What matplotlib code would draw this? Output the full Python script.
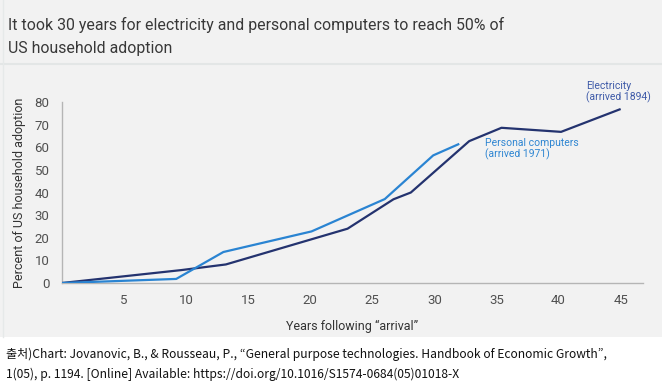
import matplotlib
matplotlib.use("Agg")
import matplotlib.pyplot as plt
from matplotlib.patches import Rectangle
from matplotlib.lines import Line2D

# Data
elec_years = [0, 9.6, 13.2, 23, 26.7, 28.1, 32.8, 35.4, 40.2, 45]
elec_vals = [0, 5.7, 8.2, 24, 37, 40, 62.7, 68.6, 66.8, 76.9]
pc_years = [0, 9.2, 13.0, 20.1, 26.0, 29.9, 32.0]
pc_vals = [0, 1.8, 13.7, 22.8, 37.1, 56.4, 61.5]
x_ticks = [5, 10, 15, 20, 25, 30, 35, 40, 45]
y_ticks = [0, 10, 20, 30, 40, 50, 60, 70, 80]

title1 = "It took 30 years for electricity and personal computers to reach 50% of"
title2 = "US household adoption"
caption1 = "출처)Chart: Jovanovic, B., & Rousseau, P., “General purpose technologies. Handbook of Economic Growth”,"
caption2 = "1(05), p. 1194. [Online] Available: https://doi.org/10.1016/S1574-0684(05)01018-X"

W, H = 662, 387
fig = plt.figure(figsize=(W / 100, H / 100), dpi=100)
fig.patch.set_facecolor("white")

bg = "#f2f2f2"
# grey panel
fig.patches.append(Rectangle((0, 1 - 337 / H), 1, 337 / H, transform=fig.transFigure,
                             facecolor=bg, edgecolor="none", zorder=-5))
# separator under title
fig.lines.append(Line2D([0, 1], [1 - 64 / H, 1 - 64 / H], transform=fig.transFigure,
                        color="#e3e6e6", lw=1.5, zorder=-4))
fig.lines.append(Line2D([3 / W, 3 / W], [1 - 337 / H, 1], transform=fig.transFigure,
                        color="#e6e9e9", lw=1.0, zorder=-4))

font = "Roboto"
fig.text(8 / W, 1 - 30 / H, title1,
         fontsize=11.4, color="#383838", family=font, va="baseline")
fig.text(8 / W, 1 - 53 / H, title2,
         fontsize=11.4, color="#383838", family=font, va="baseline")

left, right = 62 / W, 643 / W
bottom, top = 1 - 283 / H, 1 - 102 / H
ax = fig.add_axes([left, bottom, right - left, top - bottom])
ax.set_facecolor("none")
ax.set_xlim(0, 46.8)
ax.set_ylim(0, 80)

elec_color = "#24336f"
pc_color = "#2a84d2"
ax.plot(elec_years, elec_vals, color=elec_color, lw=1.6, solid_capstyle="butt", zorder=3)
ax.plot(pc_years, pc_vals, color=pc_color, lw=1.6, solid_capstyle="butt", zorder=3)

for s in ["top", "right"]:
    ax.spines[s].set_visible(False)
for s in ["left", "bottom"]:
    ax.spines[s].set_color("#b5b5b5")
    ax.spines[s].set_linewidth(1.0)

ax.set_xticks(x_ticks)
ax.set_yticks(y_ticks)
ax.tick_params(axis="both", length=0, labelsize=9.5, labelcolor="#505050")
ax.tick_params(axis="x", pad=8)
ax.tick_params(axis="y", pad=9)
for lab in ax.get_xticklabels() + ax.get_yticklabels():
    lab.set_family(font)

ax.set_xlabel("Years following \u201carrival\u201d", fontsize=9, color="#333333",
              family=font, labelpad=9)
ax.set_ylabel("Percent of US household adoption", fontsize=9, color="#333333",
              family=font)
ax.yaxis.set_label_coords((26 - 62) / (643 - 62), 0.5)

ax.text(42.2, 89.5, "Electricity\n(arrived 1894)", fontsize=7.5, color="#3e5aa8",
        family=font, va="top", ha="left", linespacing=1.15, clip_on=False)
ax.text(34.1, 64.3, "Personal computers\n(arrived 1971)", fontsize=7.5, color="#2f86d2",
        family=font, va="top", ha="left", linespacing=1.15, clip_on=False)

cap_fam = ["Noto Sans CJK KR", "DejaVu Sans"]
fig.text(6 / W, 1 - 358 / H, caption1, fontsize=8.7, color="#111111", family=cap_fam, va="baseline")
fig.text(6 / W, 1 - 378 / H, caption2, fontsize=8.7, color="#111111", family=cap_fam, va="baseline")

fig.savefig("out.png", dpi=100, facecolor=fig.get_facecolor())
